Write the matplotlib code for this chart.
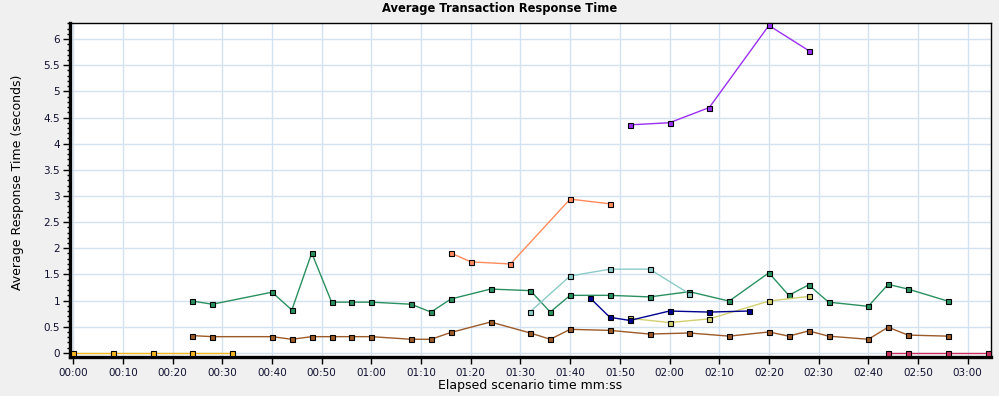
import numpy as np
import matplotlib.pyplot as plt
from matplotlib.ticker import MultipleLocator, FuncFormatter

# elapsed seconds / average response time (s) per transaction
yellow_t = [0, 8, 16, 24, 32]
yellow_v = [0, 0, 0, 0, 0]

brown_t = [24, 28, 40, 44, 48, 52, 56, 60, 68, 72, 76, 84, 92, 96, 100, 108,
           116, 124, 132, 140, 144, 148, 152, 160, 164, 168, 176]
brown_v = [0.33, 0.31, 0.31, 0.26, 0.31, 0.31, 0.31, 0.31, 0.26, 0.26, 0.39, 0.59,
           0.38, 0.26, 0.45, 0.43, 0.36, 0.38, 0.32, 0.40, 0.32, 0.42, 0.32, 0.26,
           0.49, 0.34, 0.32]

green_t = [24, 28, 40, 44, 48, 52, 56, 60, 68, 72, 76, 84, 92, 96, 100, 108,
           116, 124, 132, 140, 144, 148, 152, 160, 164, 168, 176]
green_v = [0.99, 0.93, 1.16, 0.82, 1.91, 0.97, 0.97, 0.97, 0.93, 0.78, 1.03, 1.22,
           1.19, 0.78, 1.10, 1.10, 1.07, 1.17, 0.99, 1.53, 1.10, 1.30, 0.97, 0.89,
           1.31, 1.22, 0.99]

orange_t = [76, 80, 88, 100, 108]
orange_v = [1.91, 1.74, 1.70, 2.94, 2.85]

teal_t = [92, 100, 108, 116, 124]
teal_v = [0.79, 1.47, 1.60, 1.60, 1.13]

khaki_t = [112, 120, 128, 140, 148]
khaki_v = [0.66, 0.58, 0.65, 0.99, 1.08]

navy_t = [104, 108, 112, 120, 128, 136]
navy_v = [1.05, 0.68, 0.62, 0.80, 0.78, 0.80]

purple_t = [112, 120, 128, 140, 148]
purple_v = [4.36, 4.40, 4.69, 6.26, 5.78]

crimson_t = [164, 168, 176, 184]
crimson_v = [0, 0, 0, 0]

SERIES = [
    (yellow_t, yellow_v, "#f5b820"),
    (brown_t, brown_v, "#9c5a28"),
    (green_t, green_v, "#2a9060"),
    (orange_t, orange_v, "#ff8a5c"),
    (teal_t, teal_v, "#8ccbc8"),
    (khaki_t, khaki_v, "#d2d070"),
    (navy_t, navy_v, "#000090"),
    (purple_t, purple_v, "#9a30f0"),
    (crimson_t, crimson_v, "#cc3060"),
]

TXT = "#101030"

fig = plt.figure(figsize=(9.99, 3.96), dpi=100, facecolor="#f0f0f0")
ax = fig.add_axes([0.070, 0.099, 0.922, 0.842])
ax.set_facecolor("white")

for t, v, c in SERIES:
    ax.plot(t, v, color=c, linewidth=1.0, marker="s", markersize=3.6,
            markerfacecolor=c, markeredgecolor="black", markeredgewidth=0.8,
            zorder=3, clip_on=False)

ax.set_xlim(-0.66, 184.7)
ax.set_ylim(-0.075, 6.30)

ax.xaxis.set_major_locator(MultipleLocator(10))
ax.xaxis.set_major_formatter(FuncFormatter(lambda s, _: f"{int(s) // 60:02d}:{int(s) % 60:02d}"))
ax.yaxis.set_major_locator(MultipleLocator(0.5))
ax.yaxis.set_minor_locator(MultipleLocator(0.1))
ax.yaxis.set_major_formatter(FuncFormatter(lambda v, _: f"{v:g}"))

ax.grid(which="major", color="#d4e2f0", linewidth=1.0, zorder=0)
ax.set_axisbelow(True)

for side in ("left", "bottom"):
    ax.spines[side].set_linewidth(2.4)
for side in ("top", "right"):
    ax.spines[side].set_linewidth(1.0)

ax.tick_params(axis="x", which="major", direction="out", length=5, width=1,
               labelsize=7.5, labelcolor=TXT, pad=3)
ax.tick_params(axis="y", which="major", direction="out", length=5, width=1,
               labelsize=7.5, labelcolor=TXT, pad=2)
ax.tick_params(axis="y", which="minor", direction="out", length=2.5, width=1)

fig.text(0.5, 0.978, "Average Transaction Response Time", ha="center", va="center",
         fontsize=8.3, fontweight="bold", color="black")
ax.set_xlabel("Elapsed scenario time mm:ss", fontsize=9, color="black", labelpad=1)
fig.text(0.018, 0.54, "Average Response Time (seconds)", rotation=90,
         ha="center", va="center", fontsize=9, color="black")

fig.savefig("out.png", dpi=100, facecolor=fig.get_facecolor())
